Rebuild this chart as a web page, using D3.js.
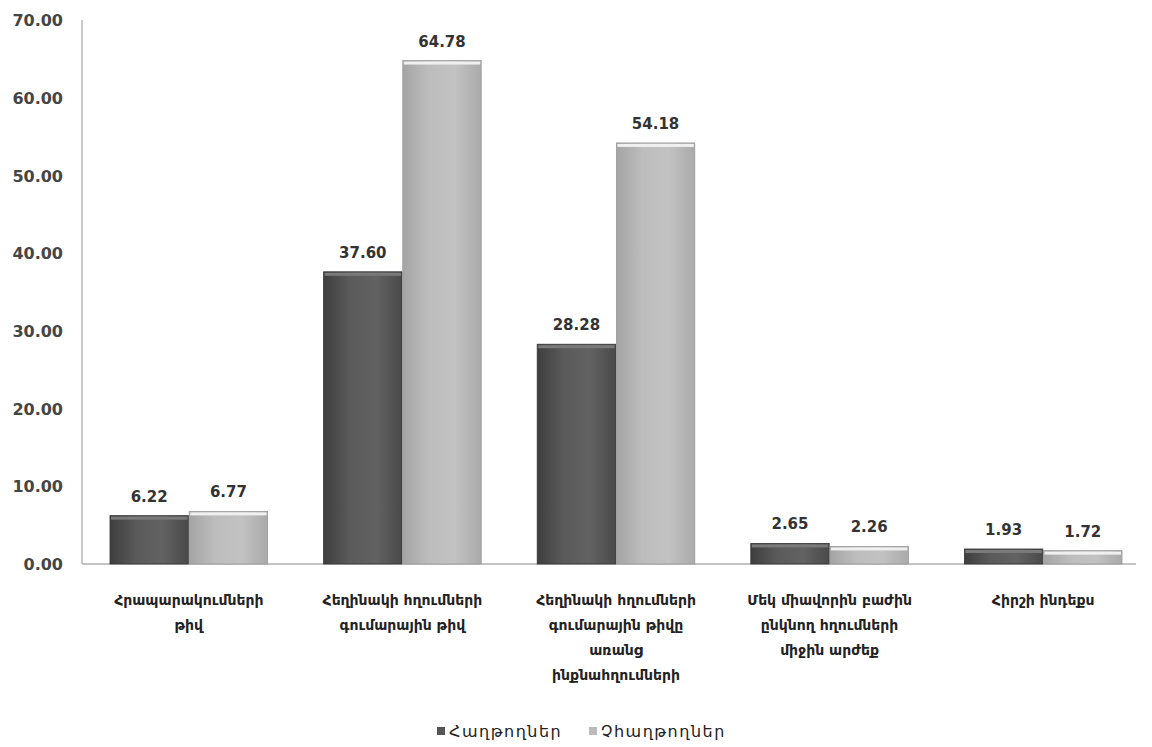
<!DOCTYPE html>
<html><head><meta charset="utf-8">
<script src="https://cdn.jsdelivr.net/npm/d3@7"></script>
<style>
body{margin:0;background:#fff;}
svg{display:block;}
</style></head>
<body>
<svg id="chart" width="1152" height="747"></svg>
<script>
const categories = [
  ["Հրապարակումների", "թիվ"],
  ["Հեղինակի հղումների", "գումարային թիվ"],
  ["Հեղինակի հղումների", "գումարային թիվը", "առանց", "ինքնահղումների"],
  ["Մեկ միավորին բաժին", "ընկնող հղումների", "միջին արժեք"],
  ["Հիրշի ինդեքս"]
];
const seriesNames = ["Հաղթողներ", "Չհաղթողներ"];
const winners = [6.22, 37.60, 28.28, 2.65, 1.93];
const nonWinners = [6.77, 64.78, 54.18, 2.26, 1.72];
const yTicks = [0, 10, 20, 30, 40, 50, 60, 70];

(function(){
const svg = d3.select("#chart");
const mLeft = 82, mRight = 1150, mTop = 20, mBottom = 564;
const catIds = categories.map((c, i) => i);
const x0 = d3.scaleBand().domain(catIds).range([mLeft, mRight]).padding(0);
const gap = 28;
const x1 = d3.scaleBand().domain([0, 1]).range([gap, x0.bandwidth() - gap]).paddingInner(0.01);
const y = d3.scaleLinear().domain([0, 70]).range([mBottom, mTop]);

const defs = svg.append("defs");
const fills = [
  {id: "g0", stops: ["#3e3e3e", "#5a5a5a", "#626262", "#4a4a4a"]},
  {id: "g1", stops: ["#a4a4a4", "#bdbdbd", "#c2c2c2", "#aaaaaa"]}
];
fills.forEach(f => {
  const g = defs.append("linearGradient").attr("id", f.id).attr("x1", "0").attr("x2", "1").attr("y1", "0").attr("y2", "0");
  f.stops.forEach((c, i) => g.append("stop").attr("offset", i / (f.stops.length - 1)).attr("stop-color", c));
});
const topCol = ["#7a7a7a", "#f0f0f0"];
const edgeCol = ["#333", "#999"];

svg.append("line").attr("x1", mLeft).attr("x2", mLeft).attr("y1", y(70)).attr("y2", y(0))
  .attr("stroke", "#c8c8c8").attr("stroke-width", 2);
svg.append("line").attr("x1", mLeft).attr("x2", 1136).attr("y1", y(0)).attr("y2", y(0))
  .attr("stroke", "#b0b0b0").attr("stroke-width", 1.5);

const yAxis = d3.axisLeft(y).tickValues(yTicks).tickFormat(d3.format(".2f")).tickSize(0).tickPadding(0);
const ya = svg.append("g").attr("transform", `translate(63,0)`).call(yAxis);
ya.select(".domain").remove();
ya.selectAll("text").attr("font-family", "DejaVu Sans").attr("font-weight", "bold")
  .attr("font-size", 16).attr("fill", "#454545").attr("dy", "0.35em");

const data = [winners, nonWinners];
data.forEach((vals, s) => {
  const g = svg.append("g");
  vals.forEach((v, i) => {
    const bx = x0(i) + x1(s), bw = x1.bandwidth();
    g.append("rect").attr("x", bx).attr("y", y(v)).attr("width", bw).attr("height", y(0) - y(v))
      .attr("fill", `url(#g${s})`).attr("stroke", edgeCol[s]).attr("stroke-width", 0.8);
    g.append("rect").attr("x", bx + 1).attr("y", y(v) + 1).attr("width", bw - 2).attr("height", 3)
      .attr("fill", topCol[s]);
    g.append("text").attr("x", bx + bw / 2).attr("y", y(v) - 14)
      .attr("text-anchor", "middle").attr("font-family", "DejaVu Sans").attr("font-weight", "bold")
      .attr("font-size", 15).attr("fill", "#333").text(d3.format(".2f")(v));
  });
});

categories.forEach((lines, i) => {
  const cx = x0(i) + x0.bandwidth() / 2;
  const t = svg.append("text").attr("x", cx).attr("y", 605).attr("text-anchor", "middle")
    .attr("font-family", "DejaVu Sans").attr("font-weight", "bold").attr("font-size", 14).attr("fill", "#222");
  lines.forEach((ln, k) => t.append("tspan").attr("x", cx).attr("dy", k === 0 ? 0 : 25).text(ln));
});

const legX = [437, 589];
seriesNames.forEach((n, s) => {
  svg.append("rect").attr("x", legX[s]).attr("y", 727).attr("width", 8).attr("height", 8)
    .attr("fill", s === 0 ? "#555" : "#bbb");
  svg.append("text").attr("x", legX[s] + 12).attr("y", 737).attr("font-family", "DejaVu Sans")
    .attr("font-size", 16).attr("letter-spacing", 1.5).attr("fill", "#222").text(n);
});
})();
</script>
</body></html>
